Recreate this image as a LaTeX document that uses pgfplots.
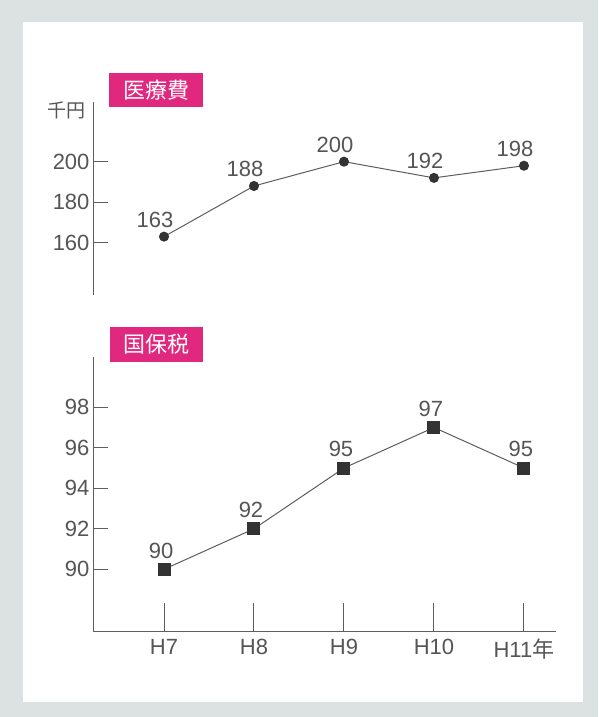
\documentclass[border=0pt]{standalone}
\usepackage{fontspec}
\setmainfont{Liberation Sans}
\newfontfamily\jp{Noto Sans CJK JP}
\usepackage{pgfplots}
\pgfplotsset{compat=1.18}
\definecolor{frame}{HTML}{DCE1E1}
\definecolor{mag}{HTML}{E0287F}
\definecolor{txt}{HTML}{555555}
\definecolor{ln}{HTML}{5E5E5E}
\definecolor{mk}{HTML}{333333}
\pgfplotsset{
  common/.style={
    scale only axis, width=463pt,
    xmin=-0.789, xmax=4.356,
    axis y line=left,
    axis line style={-, ln, line width=1pt},
    tick style={ln, line width=1pt},
    tick align=inside,
    major tick length=15pt,
    tick label style={font=\fontsize{22}{22}\selectfont, text=txt},
    /pgf/number format/assume math mode=true,
    clip=false,
    nodes near coords,
    every node near coord/.append style={font=\fontsize{22}{22}\selectfont, text=txt},
  }
}
\begin{document}
\begin{tikzpicture}[x=1pt,y=1pt]
\useasboundingbox (0,0) rectangle (598,717);
\fill[frame] (0,0) rectangle (598,717);
\fill[white] (23,15) rectangle (583,695);

% top: medical costs
\begin{axis}[common,
  at={(93pt,422pt)}, anchor=south west,
  height=193.3pt,
  ymin=134.2, ymax=229.6,
  axis x line=none,
  xtick=\empty,
  ytick={160,180,200},
  every node near coord/.append style={xshift=-9pt, yshift=5pt},
]
\addplot[ln, line width=1pt, mark=*, mark size=4.5pt,
  mark options={fill=mk, draw=mk}] coordinates {
  (0,163) (1,188) (2,200) (3,192) (4,198)
};
\end{axis}

% bottom: national health insurance tax
\begin{axis}[common,
  at={(93pt,85.5pt)}, anchor=south west,
  height=274.5pt,
  ymin=86.93, ymax=100.48,
  axis x line=bottom,
  axis line style={-, ln, line width=1pt},
  xtick align=inside,
  xtick={0,1,2,3,4},
  xticklabels={H7,H8,H9,H10,{H11{\jp 年}}},
  xticklabel style={yshift=-4pt},
  x tick style={/pgfplots/major tick length=28pt},
  ytick={90,92,94,96,98},
  every node near coord/.append style={xshift=-3pt, yshift=7pt},
]
\addplot[ln, line width=1pt, mark=square*, mark size=6pt,
  mark options={fill=mk, draw=mk}] coordinates {
  (0,90) (1,92) (2,95) (3,97) (4,95)
};
\end{axis}

\node[fill=mag, text=white, minimum width=94pt, minimum height=34pt, inner sep=0pt,
  font=\jp\fontsize{22}{22}\selectfont] at (156,627) {医療費};
\node[fill=mag, text=white, minimum width=93pt, minimum height=35pt, inner sep=0pt,
  font=\jp\fontsize{22}{22}\selectfont] at (156.5,372.5) {国保税};
\node[text=txt, font=\jp\fontsize{19}{19}\selectfont] at (66,607) {千円};
\end{tikzpicture}
\end{document}
